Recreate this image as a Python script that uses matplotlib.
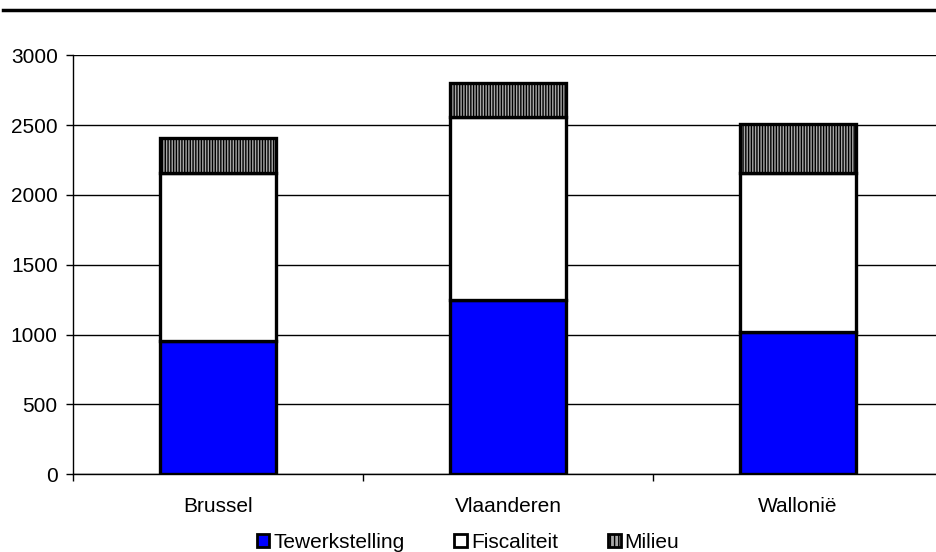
import matplotlib
matplotlib.use("Agg")
import matplotlib.pyplot as plt
from matplotlib.patches import Patch
from matplotlib.lines import Line2D
import numpy as np

plt.rcParams['font.family'] = ['Liberation Sans', 'DejaVu Sans']
plt.rcParams['hatch.color'] = '#303030'
plt.rcParams['hatch.linewidth'] = 1.0

categories = ['Brussel', 'Vlaanderen', 'Wallonië']
series_names = ['Tewerkstelling', 'Fiscaliteit', 'Milieu']
tewerkstelling = [955, 1250, 1020]
fiscaliteit = [1200, 1310, 1140]
milieu = [250, 240, 345]
yticks = [0, 500, 1000, 1500, 2000, 2500, 3000]

fig = plt.figure(figsize=(9.36, 5.52), dpi=100)
ax = fig.add_axes([73/936, 1 - 474.3/552, (943 - 73)/936, (474.3 - 55.3)/552])

x = np.arange(len(categories))
w = 0.4
lw = 2.4
ax.bar(x, tewerkstelling, w, color='#0000ff', edgecolor='black', linewidth=lw, zorder=3)
bottom2 = np.array(tewerkstelling)
ax.bar(x, fiscaliteit, w, bottom=bottom2, color='white', edgecolor='black', linewidth=lw, zorder=3)
bottom3 = bottom2 + np.array(fiscaliteit)
ax.bar(x, milieu, w, bottom=bottom3, color='#a8a8a8', edgecolor='black', linewidth=lw,
       hatch='||||||', zorder=3)

ax.set_xlim(-0.5, 2.5)
ax.set_ylim(0, 3000)
ax.set_yticks(yticks)
ax.yaxis.grid(True, color='black', linewidth=1.0, zorder=0)
ax.set_axisbelow(True)
for s in ['top', 'right']:
    ax.spines[s].set_visible(False)
ax.spines['left'].set_linewidth(1.0)
ax.spines['bottom'].set_linewidth(1.0)

ax.set_xticks([-0.5, 0.5, 1.5, 2.5])
ax.set_xticklabels([])
ax.set_xticks(x, minor=True)
ax.set_xticklabels(categories, minor=True)
ax.tick_params(axis='x', which='major', direction='out', length=5, width=1)
ax.tick_params(axis='x', which='minor', length=0, pad=16, labelsize=15)
ax.tick_params(axis='y', direction='out', length=5, width=1, pad=6, labelsize=15)

handles = [
    Patch(facecolor='#0000ff', edgecolor='black', linewidth=2.0),
    Patch(facecolor='white', edgecolor='black', linewidth=2.0),
    Patch(facecolor='#a8a8a8', edgecolor='black', linewidth=2.0, hatch='||||'),
]
fig.legend(handles, series_names, loc='center', bbox_to_anchor=(0.5, 1 - 542/552), ncol=3,
           frameon=False, fontsize=15, handlelength=0.6, handleheight=0.6,
           handletextpad=0.2, columnspacing=2.4, borderaxespad=0)

fig.add_artist(Line2D([3/936, 1.0], [1 - 10/552, 1 - 10/552], color='black', linewidth=2.5))

fig.savefig('out.png', dpi=100)
